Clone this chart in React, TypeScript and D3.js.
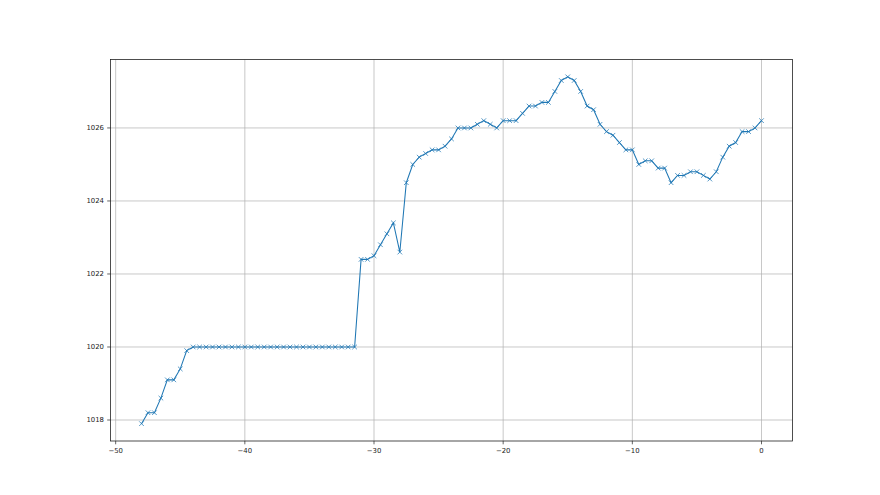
import React from "react";
import * as d3 from "d3";

const startX = -48;
const stepX = 0.5;
const pressure = [
  1017.9, 1018.2, 1018.2, 1018.6, 1019.1, 1019.1, 1019.4, 1019.9,
  1020.0, 1020.0, 1020.0, 1020.0, 1020.0, 1020.0, 1020.0, 1020.0,
  1020.0, 1020.0, 1020.0, 1020.0, 1020.0, 1020.0, 1020.0, 1020.0,
  1020.0, 1020.0, 1020.0, 1020.0, 1020.0, 1020.0, 1020.0, 1020.0,
  1020.0, 1020.0,
  1022.4, 1022.4, 1022.5, 1022.8, 1023.1, 1023.4, 1022.6,
  1024.5, 1025.0, 1025.2, 1025.3, 1025.4, 1025.4, 1025.5, 1025.7,
  1026.0, 1026.0, 1026.0, 1026.1, 1026.2, 1026.1, 1026.0,
  1026.2, 1026.2, 1026.2, 1026.4, 1026.6, 1026.6, 1026.7, 1026.7,
  1027.0, 1027.3, 1027.4, 1027.3, 1027.0, 1026.6, 1026.5, 1026.1,
  1025.9, 1025.8, 1025.6, 1025.4, 1025.4, 1025.0, 1025.1, 1025.1,
  1024.9, 1024.9, 1024.5, 1024.7, 1024.7, 1024.8, 1024.8, 1024.7,
  1024.6, 1024.8, 1025.2, 1025.5, 1025.6, 1025.9, 1025.9, 1026.0,
  1026.2,
];
const xTicks = [-50, -40, -30, -20, -10, 0];
const yTicks = [1018, 1020, 1022, 1024, 1026];

const data = pressure.map((v, i) => ({ x: startX + i * stepX, y: v }));

const W = 880;
const H = 495;
const left = 110.5;
const right = 792.5;
const top = 59.5;
const bottom = 441;

export default function App() {
  const xMin = d3.min(data, (d) => d.x)!;
  const xMax = d3.max(data, (d) => d.x)!;
  const yMin = d3.min(data, (d) => d.y)!;
  const yMax = d3.max(data, (d) => d.y)!;
  const xm = (xMax - xMin) * 0.05;
  const ym = (yMax - yMin) * 0.05;
  const x = d3.scaleLinear().domain([xMin - xm, xMax + xm]).range([left, right]);
  const y = d3.scaleLinear().domain([yMin - ym, yMax + ym]).range([bottom, top]);
  const line = d3
    .line<{ x: number; y: number }>()
    .x((d) => x(d.x))
    .y((d) => y(d.y));
  const color = "#1f77b4";
  const ms = 2.3;
  const font = "DejaVu Sans, sans-serif";
  return (
    <svg
      width={W}
      height={H}
      style={{ position: "absolute", left: 0, top: 0, background: "#fff" }}
    >
      <rect x={0} y={0} width={W} height={H} fill="#fff" />
      <g>
        {xTicks.map((t) => (
          <line
            key={"gx" + t}
            x1={x(t)}
            x2={x(t)}
            y1={top}
            y2={bottom}
            stroke="#b0b0b0"
            strokeWidth={0.7}
          />
        ))}
        {yTicks.map((t) => (
          <line
            key={"gy" + t}
            x1={left}
            x2={right}
            y1={y(t)}
            y2={y(t)}
            stroke="#b0b0b0"
            strokeWidth={0.7}
          />
        ))}
      </g>
      <path d={line(data)!} fill="none" stroke={color} strokeWidth={1.05} />
      <g stroke={color} strokeWidth={0.75}>
        {data.map((d, i) => {
          const cx = x(d.x);
          const cy = y(d.y);
          return (
            <g key={i}>
              <line x1={cx - ms} y1={cy - ms} x2={cx + ms} y2={cy + ms} />
              <line x1={cx - ms} y1={cy + ms} x2={cx + ms} y2={cy - ms} />
            </g>
          );
        })}
      </g>
      <rect
        x={left}
        y={top}
        width={right - left}
        height={bottom - top}
        fill="none"
        stroke="#222"
        strokeWidth={0.8}
      />
      <g fontFamily={font} fontSize={6.9} fill="#222">
        {xTicks.map((t) => (
          <g key={"tx" + t}>
            <line x1={x(t)} x2={x(t)} y1={bottom} y2={bottom + 3.3} stroke="#222" strokeWidth={0.7} />
            <text x={x(t)} y={452.5} textAnchor="middle">
              {t < 0 ? "\u2212" + Math.abs(t) : String(t)}
            </text>
          </g>
        ))}
        {yTicks.map((t) => (
          <g key={"ty" + t}>
            <line x1={left - 3.3} x2={left} y1={y(t)} y2={y(t)} stroke="#222" strokeWidth={0.7} />
            <text x={104} y={y(t)} dy="0.35em" textAnchor="end">
              {t}
            </text>
          </g>
        ))}
      </g>
    </svg>
  );
}
